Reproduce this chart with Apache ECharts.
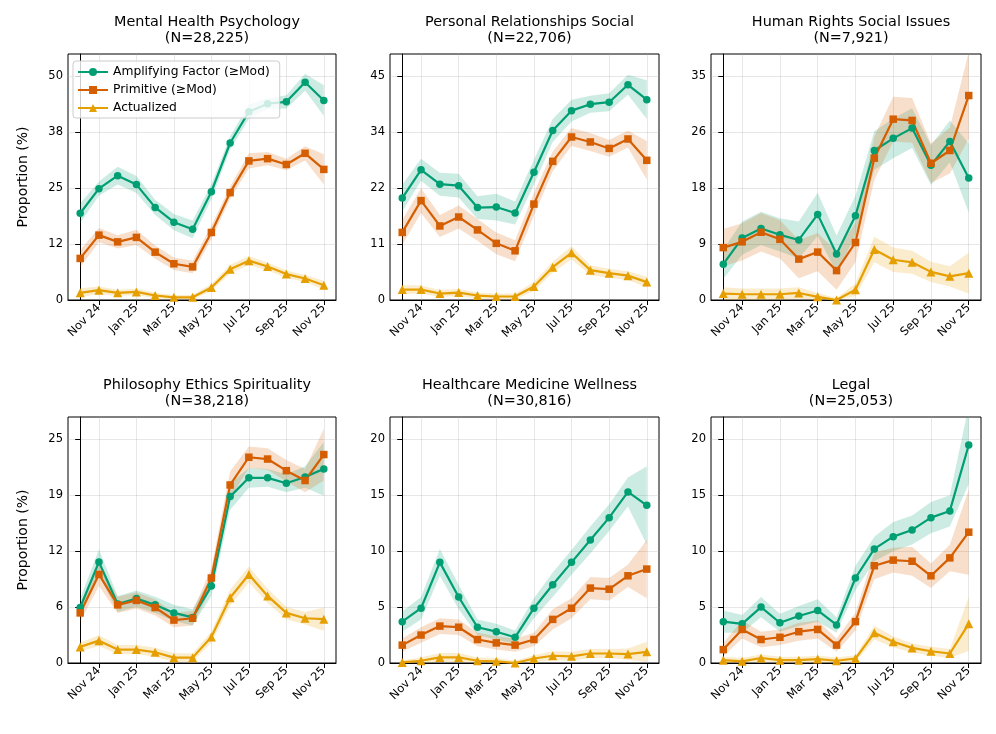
<!DOCTYPE html>
<html><head><meta charset="utf-8">
<script src="https://cdn.jsdelivr.net/npm/echarts@6/dist/echarts.min.js"></script>
<style>html,body{margin:0;padding:0;background:#fff}#c{width:996px;height:734px}</style>
</head><body><div id="c"></div>
<script>
const months = ['Oct 24','Nov 24','Dec 24','Jan 25','Feb 25','Mar 25','Apr 25','May 25','Jun 25','Jul 25','Aug 25','Sep 25','Oct 25','Nov 25'];
const xTickIdx = [1,3,5,7,9,11,13];
const seriesNames = ['Amplifying Factor (≥Mod)','Primitive (≥Mod)','Actualized'];
const panelTitles = ['Mental Health Psychology','Personal Relationships Social','Human Rights Social Issues','Philosophy Ethics Spirituality','Healthcare Medicine Wellness','Legal'];
const panelN = ['28,225','22,706','7,921','38,218','30,816','25,053'];
const yTickValues = [[0,12.5,25,37.5,50],[0,11.25,22.5,33.75,45],[0,8.75,17.5,26.25,35],[0,6.25,12.5,18.75,25],[0,5,10,15,20],[0,5,10,15,20]];
const yTickLabels = [['0','12','25','38','50'],['0','11','22','34','45'],['0','9','18','26','35'],['0','6','12','19','25'],['0','5','10','15','20'],['0','5','10','15','20']];
const yMax = [55,49.5,38.5,27.5,22,22];

// Mental Health Psychology
const mhAmp = [19.4,24.9,27.8,25.8,20.7,17.4,15.8,24.2,35.1,42.1,43.9,44.3,48.7,44.6];
const mhAmpCI = [2.2,1.6,2.0,1.9,1.7,1.8,2.0,1.7,1.5,1.6,1.2,1.5,1.9,3.4];
const mhPrim = [9.3,14.5,13.0,14.0,10.7,8.1,7.4,15.1,24.0,31.1,31.6,30.3,32.8,29.2];
const mhPrimCI = [1.9,1.6,1.5,1.7,1.5,1.4,1.4,1.5,1.4,1.7,1.5,1.3,1.6,3.4];
const mhAct = [1.6,2.2,1.6,1.8,1.0,0.6,0.6,2.8,6.9,8.8,7.5,5.8,4.8,3.3];
const mhActCI = [1.0,0.8,0.7,0.7,0.6,0.5,0.5,0.8,1.0,1.0,0.9,0.8,0.8,1.0];
// Personal Relationships Social
const prAmp = [20.5,26.2,23.3,23.0,18.6,18.7,17.5,25.7,34.1,38.1,39.4,39.8,43.3,40.3];
const prAmpCI = [2.7,2.2,2.3,2.4,2.3,2.7,2.3,2.5,2.3,2.2,1.7,1.8,2.0,3.9];
const prPrim = [13.6,20.0,14.9,16.7,14.1,11.4,9.9,19.3,27.9,32.8,31.8,30.5,32.4,28.1];
const prPrimCI = [2.5,2.5,2.2,2.3,2.2,2.2,2.1,2.3,2.0,1.8,1.8,1.7,1.7,3.9];
const prAct = [2.1,2.1,1.3,1.5,0.9,0.7,0.7,2.7,6.6,9.5,6.0,5.4,4.9,3.6];
const prActCI = [0.9,0.8,0.7,0.7,0.6,0.6,0.6,0.9,1.1,1.3,1.0,0.9,0.9,1.1];
// Human Rights Social Issues
const hrAmp = [5.6,9.7,11.2,10.2,9.4,13.4,7.2,13.2,23.4,25.3,26.9,21.1,24.8,19.1];
const hrAmpCI = [2.3,2.6,2.6,2.6,2.9,3.4,2.9,3.1,3.0,3.1,3.1,3.1,3.3,5.4];
const hrPrim = [8.2,9.1,10.6,9.5,6.4,7.5,4.6,9.0,22.2,28.3,28.1,21.4,23.4,32.0];
const hrPrimCI = [2.9,2.9,3.0,3.0,3.0,3.0,3.0,3.1,3.4,3.5,3.5,3.1,3.6,6.8];
const hrAct = [1.0,0.9,0.9,0.9,1.1,0.5,0.0,1.6,7.9,6.3,5.9,4.4,3.7,4.2];
const hrActCI = [1.0,0.9,0.9,0.9,0.9,0.6,0.3,1.0,2.0,1.9,1.8,1.6,1.6,3.2];
// Philosophy Ethics Spirituality
const peAmp = [6.2,11.3,6.6,7.2,6.5,5.6,5.1,8.6,18.6,20.7,20.7,20.1,20.8,21.7];
const peAmpCI = [1.0,1.4,0.9,0.9,0.9,0.9,0.9,1.1,1.5,1.1,1.0,1.0,1.2,3.0];
const pePrim = [5.6,9.9,6.5,7.0,6.2,4.8,5.0,9.5,19.9,23.0,22.8,21.5,20.4,23.3];
const pePrimCI = [1.0,1.3,0.9,0.9,0.9,0.8,0.8,1.1,1.5,1.2,1.2,1.2,1.3,2.9];
const peAct = [1.8,2.5,1.5,1.5,1.2,0.6,0.6,2.9,7.3,9.9,7.5,5.6,5.0,4.9];
const peActCI = [0.5,0.6,0.5,0.5,0.5,0.5,0.5,0.6,0.9,0.9,0.8,0.7,0.7,1.3];
// Healthcare Medicine Wellness
const hcAmp = [3.7,4.9,9.0,5.9,3.2,2.8,2.3,4.9,7.0,9.0,11.0,13.0,15.3,14.1];
const hcAmpCI = [0.9,1.0,1.2,1.1,0.7,0.7,0.6,0.9,1.1,1.1,1.2,1.2,1.3,3.5];
const hcPrim = [1.6,2.5,3.3,3.2,2.1,1.8,1.6,2.1,3.9,4.9,6.7,6.6,7.8,8.4];
const hcPrimCI = [0.6,0.7,0.7,0.7,0.6,0.6,0.6,0.6,0.9,0.9,1.0,1.0,1.0,2.6];
const hcAct = [0.05,0.2,0.5,0.5,0.2,0.15,0.0,0.4,0.65,0.6,0.85,0.85,0.8,1.0];
const hcActCI = [0.2,0.3,0.4,0.4,0.3,0.3,0.2,0.3,0.4,0.4,0.4,0.4,0.5,0.9];
// Legal
const lgAmp = [3.7,3.5,5.0,3.6,4.2,4.7,3.4,7.6,10.2,11.3,11.9,13.0,13.6,19.5];
const lgAmpCI = [1.0,0.8,0.9,0.8,0.9,1.0,0.7,1.1,1.1,1.3,1.3,1.4,1.4,3.5];
const lgPrim = [1.2,3.0,2.1,2.3,2.8,3.0,1.6,3.7,8.7,9.2,9.1,7.8,9.4,11.7];
const lgPrimCI = [0.6,0.8,0.7,0.7,0.8,0.8,0.6,0.8,1.2,1.1,1.3,1.1,1.2,3.8];
const lgAct = [0.25,0.15,0.45,0.25,0.25,0.35,0.2,0.4,2.7,1.9,1.35,1.05,0.85,3.5];
const lgActCI = [0.3,0.3,0.3,0.3,0.3,0.3,0.3,0.3,0.6,0.5,0.4,0.4,0.4,2.4];

const panelSeries = [
  [[mhAmp,mhAmpCI],[mhPrim,mhPrimCI],[mhAct,mhActCI]],
  [[prAmp,prAmpCI],[prPrim,prPrimCI],[prAct,prActCI]],
  [[hrAmp,hrAmpCI],[hrPrim,hrPrimCI],[hrAct,hrActCI]],
  [[peAmp,peAmpCI],[pePrim,pePrimCI],[peAct,peActCI]],
  [[hcAmp,hcAmpCI],[hcPrim,hcPrimCI],[hcAct,hcActCI]],
  [[lgAmp,lgAmpCI],[lgPrim,lgPrimCI],[lgAct,lgActCI]]
];

const colors = ['#009E73','#D55E00','#E69F00'];
const bandColors = ['rgba(0,158,115,0.2)','rgba(213,94,0,0.2)','rgba(230,159,0,0.2)'];
const symbols = ['circle','rect','triangle'];
const symbolSizes = [7.5,7.5,9];
const FONT = 'DejaVu Sans';

const colLeft = [68,390,711];
const colWidth = [268,269,270];
const rowTop = [54,417];
const rowHeight = [246,246];

function bandRenderer(lower, upper, fill) {
  return function (params, api) {
    const pts = [];
    for (let i = 0; i < upper.length; i++) pts.push(api.coord([i, upper[i]]));
    for (let i = lower.length - 1; i >= 0; i--) pts.push(api.coord([i, lower[i]]));
    const cs = params.coordSys;
    return {type:'polygon', shape:{points:pts}, style:{fill: fill, stroke:'none'}, silent:true,
      clipPath:{type:'rect', shape:{x:cs.x, y:cs.y, width:cs.width, height:cs.height}}};
  };
}

const grids = [], xAxes = [], yAxes = [], titles = [], series = [];
for (let p = 0; p < 6; p++) {
  const r = Math.floor(p/3), c = p % 3;
  grids.push({left: colLeft[c], top: rowTop[r], width: colWidth[c], height: rowHeight[r],
    show: true, borderColor: '#000', borderWidth: 1, backgroundColor: 'transparent', containLabel: false});
  xAxes.push({type:'value', gridIndex:p, min:-0.65, max:13.65,
    axisLine:{show:true, onZero:false, lineStyle:{color:'#000', width:1}},
    axisTick:{show:true, customValues: xTickIdx, length:5, lineStyle:{color:'#000'}},
    axisLabel:{customValues: xTickIdx, rotate:45, fontSize:11.5, color:'#000', fontFamily:FONT, margin:6,
      formatter: v => months[Math.round(v)]},
    splitLine:{show:true, lineStyle:{color:'rgba(176,176,176,0.3)', width:1}}});
  const tv = yTickValues[p], tl = yTickLabels[p];
  yAxes.push({type:'value', gridIndex:p, min:0, max:yMax[p],
    name: c === 0 ? 'Proportion (%)' : '', nameLocation:'middle', nameGap:38, nameRotate:90,
    nameTextStyle:{fontSize:14, color:'#000', fontFamily:FONT},
    axisLine:{show:true, lineStyle:{color:'#000', width:1}},
    axisTick:{show:true, customValues: tv, length:5, lineStyle:{color:'#000'}},
    axisLabel:{customValues: tv, fontSize:11.5, color:'#000', fontFamily:FONT, margin:5,
      formatter: v => { const i = tv.findIndex(t => Math.abs(t - v) < 1e-6); return i >= 0 ? tl[i] : ''; }},
    splitLine:{show:true, lineStyle:{color:'rgba(176,176,176,0.3)', width:1}}});
  titles.push({text: panelTitles[p] + '\n(N=' + panelN[p] + ')',
    left: colLeft[c] + colWidth[c]/2, top: r === 0 ? 9 : 372, textAlign:'center',
    textStyle:{fontSize:14.4, fontWeight:'normal', color:'#000', fontFamily:FONT, lineHeight:16.5}});
  panelSeries[p].forEach((pair, s) => {
    const vals = pair[0], ci = pair[1];
    const lower = vals.map((v,i) => Math.max(0, v - ci[i]));
    const upper = vals.map((v,i) => v + ci[i]);
    series.push({type:'custom', name:'_band' + p + '_' + s, xAxisIndex:p, yAxisIndex:p,
      data: [[0, vals[0]]], renderItem: bandRenderer(lower, upper, bandColors[s]), silent:true, z:1});
  });
  panelSeries[p].forEach((pair, s) => {
    series.push({type:'line', name: seriesNames[s], xAxisIndex:p, yAxisIndex:p,
      data: pair[0].map((v,i) => [i, v]), symbol: symbols[s], symbolSize: symbolSizes[s], showSymbol:true,
      color: colors[s], lineStyle:{color: colors[s], width:2.2}, itemStyle:{color: colors[s]}, z:3});
  });
}

const chart = echarts.init(document.getElementById('c'), null, {renderer:'canvas'});
chart.setOption({
  animation:false,
  backgroundColor:'#fff',
  title: titles,
  grid: grids, xAxis: xAxes, yAxis: yAxes,
  legend: {data: seriesNames, left: 73, top: 61, orient:'vertical', itemWidth:30, itemHeight:10, itemGap:6,
    padding:[5,10,4,4], borderColor:'#cccccc', borderWidth:1, borderRadius:3, backgroundColor:'rgba(255,255,255,0.8)',
    textStyle:{fontSize:12.3, color:'#000', fontFamily:FONT}, selectedMode:false},
  series: series
});
</script></body></html>
